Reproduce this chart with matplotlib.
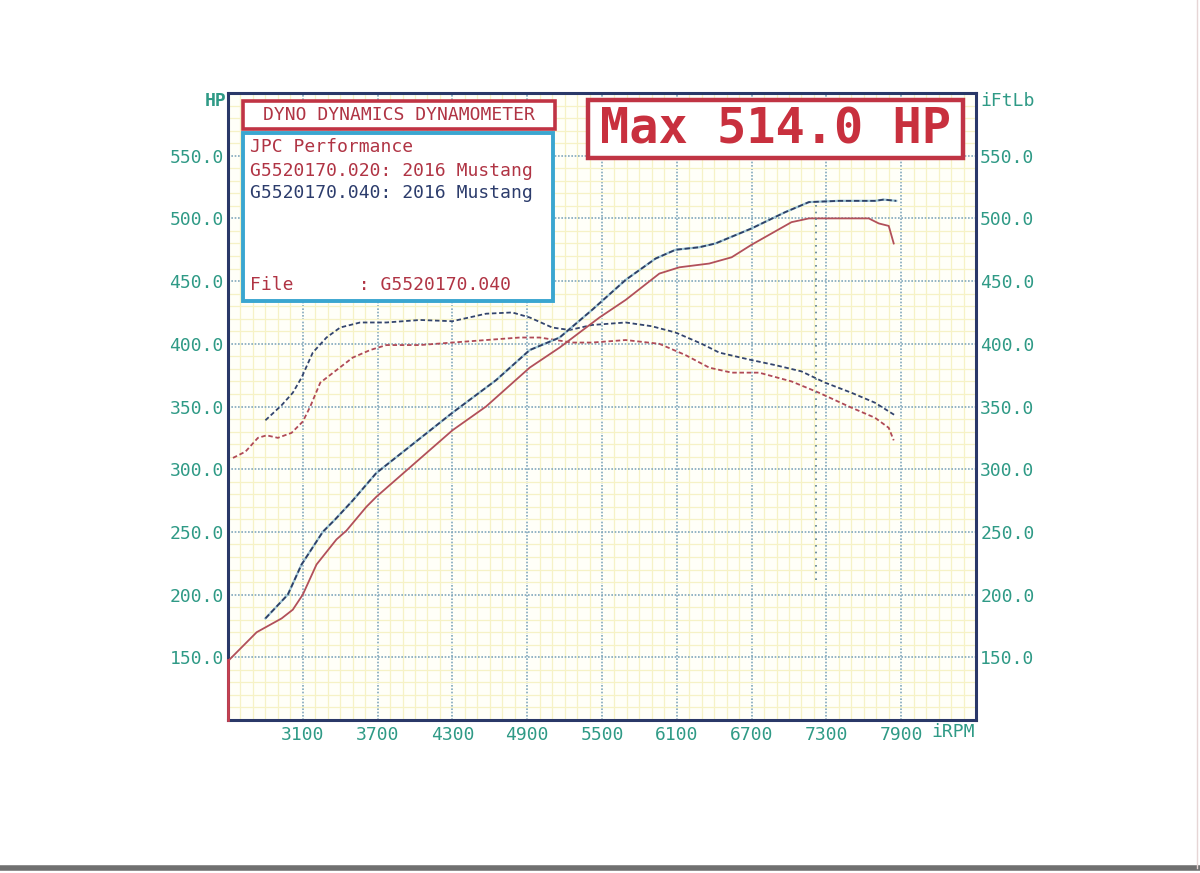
import matplotlib
matplotlib.use("Agg")
import matplotlib.pyplot as plt
from matplotlib.patches import Rectangle
from matplotlib.lines import Line2D
from matplotlib.ticker import MultipleLocator, FixedLocator

# run .040 (blue) and run .020 (red)
blue_hp_rpm = [2800, 2980, 3090, 3260, 3360, 3500, 3690, 4300, 4650, 4920, 5160, 5420,
               5690, 5930, 6090, 6280, 6410, 6700, 6970, 7160, 7400, 7690, 7760, 7860]
blue_hp = [181, 200, 224, 250, 260, 275, 297, 345, 371, 395, 405, 427,
           451, 468, 475, 477, 480, 492, 505, 513, 514, 514, 515, 514]

red_hp_rpm = [2500, 2730, 2930, 3020, 3100, 3210, 3370, 3450, 3610, 3690, 4300, 4570,
              4920, 5160, 5480, 5690, 5960, 6120, 6360, 6540, 6700, 6860, 7020, 7160,
              7400, 7640, 7720, 7800, 7840]
red_hp = [147, 170, 181, 188, 200, 224, 244, 251, 270, 278, 331, 350,
          381, 397, 421, 435, 456, 461, 464, 469, 479, 488, 497, 500,
          500, 500, 496, 494, 480]

blue_tq_rpm = [2800, 2930, 3020, 3090, 3180, 3290, 3400, 3560, 3770, 4040, 4300, 4570,
               4780, 4920, 5100, 5240, 5420, 5690, 5900, 6090, 6300, 6440, 6700, 6890,
               7100, 7290, 7500, 7690, 7850]
blue_tq = [339, 351, 361, 373, 393, 405, 413, 417, 417, 419, 418, 424,
           425, 421, 413, 411, 415, 417, 414, 409, 400, 393, 387, 383,
           378, 369, 361, 353, 343]

red_tq_rpm = [2540, 2640, 2740, 2810, 2900, 3010, 3100, 3160, 3240, 3370, 3500, 3640,
              3770, 4040, 4300, 4570, 4840, 5000, 5260, 5420, 5690, 5960, 6170, 6360,
              6540, 6760, 7020, 7240, 7480, 7690, 7800, 7840]
red_tq = [309, 314, 325, 327, 325, 329, 338, 350, 369, 379, 389, 395,
          399, 399, 401, 403, 405, 405, 401, 401, 403, 400, 391, 381,
          377, 377, 370, 361, 350, 341, 333, 323]

cursor_rpm = 7220
cursor_range = [212, 515]

x_ticks = [3100, 3700, 4300, 4900, 5500, 6100, 6700, 7300, 7900]
y_ticks = [150, 200, 250, 300, 350, 400, 450, 500, 550]

W, H = 1200, 873
TEAL = "#2f9a86"
NAVY = "#2a3868"
RED = "#c03444"
CYAN = "#3aa6d0"
MONO = "DejaVu Sans Mono"


def fx(px):
    return px / W


def fy(py):
    return 1 - py / H


fig = plt.figure(figsize=(W / 100, H / 100), dpi=100)
fig.patch.set_facecolor("white")
ax = fig.add_axes([fx(228), fy(720), fx(976) - fx(228), fy(93) - fy(720)])
ax.set_facecolor("#fffff8")
ax.set_xlim(2500, 8500)
ax.set_ylim(100, 600)

# grid: pale yellow minor, dotted blue major
ax.xaxis.set_major_locator(FixedLocator(x_ticks))
ax.yaxis.set_major_locator(FixedLocator(y_ticks))
ax.xaxis.set_minor_locator(MultipleLocator(100))
ax.yaxis.set_minor_locator(MultipleLocator(10))
ax.grid(which="minor", color="#f6f2c6", lw=0.9, ls="-", zorder=0)
ax.grid(which="major", color="#82a8bc", lw=1.2, ls=(0, (1, 1)), zorder=1)
ax.set_axisbelow(True)

ax.set_xticklabels([str(t) for t in x_ticks])
ax.set_yticklabels(["%.1f" % t for t in y_ticks])
ax.tick_params(which="both", length=0)
ax.tick_params(axis="y", labelright=True, pad=3)
ax.tick_params(axis="x", pad=4)
for lab in ax.get_xticklabels() + ax.get_yticklabels():
    lab.set_fontfamily(MONO)
    lab.set_fontsize(13)
    lab.set_color(TEAL)

for sp in ax.spines.values():
    sp.set_color(NAVY)
    sp.set_linewidth(2.2)

# torque traces (dashed)
ax.plot(blue_tq_rpm, blue_tq, color="#33456e", lw=1.3, ls=(0, (2.5, 1.5)), zorder=3)
ax.plot(red_tq_rpm, red_tq, color="#b04a56", lw=1.3, ls=(0, (2.5, 1.5)), zorder=3)

# power traces
ax.plot(blue_hp_rpm, blue_hp, color="#9cc4d4", lw=1.6, zorder=3)
ax.plot(blue_hp_rpm, blue_hp, color="#2e3f66", lw=1.3, ls=(0, (3, 1.5)), zorder=4)
ax.plot(red_hp_rpm, red_hp, color="#b2505a", lw=1.3, zorder=4)

# cursor
ax.plot([cursor_rpm, cursor_rpm], cursor_range, color="#5a8090", lw=1.2,
        ls=(0, (1, 3)), zorder=4)

# red segment on left axis
ax.plot([2500, 2500], [100, 148], color="#c84050", lw=2.0, clip_on=False, zorder=5)

# axis unit labels
fig.text(fx(226), fy(101), "HP", ha="right", va="center", family=MONO,
         fontsize=13, color=TEAL, fontweight="bold")
fig.text(fx(980), fy(101), "iFtLb", ha="left", va="center", family=MONO,
         fontsize=13, color=TEAL)
fig.text(fx(953), fy(732), "iRPM", ha="center", va="center", family=MONO,
         fontsize=13, color=TEAL)

# title box
fig.patches.append(Rectangle((fx(243), fy(129)), fx(555) - fx(243), fy(101) - fy(129),
                             transform=fig.transFigure, facecolor="white",
                             edgecolor=RED, lw=2.6, zorder=5))
fig.text(fx(399), fy(115), "DYNO DYNAMICS DYNAMOMETER", ha="center", va="center",
         family=MONO, fontsize=13, color="#b03444", zorder=6)

# info box
fig.patches.append(Rectangle((fx(243), fy(301)), fx(553) - fx(243), fy(133) - fy(301),
                             transform=fig.transFigure, facecolor="white",
                             edgecolor=CYAN, lw=2.8, zorder=5))
info = [("JPC Performance", 147, "#b03444"),
        ("G5520170.020: 2016 Mustang", 171, "#b03444"),
        ("G5520170.040: 2016 Mustang", 193, "#2c3c6c"),
        ("File      : G5520170.040", 285, "#b03444")]
for txt, yy, col in info:
    fig.text(fx(250), fy(yy), txt, ha="left", va="center", family=MONO,
             fontsize=13, color=col, zorder=6)

# max box
fig.patches.append(Rectangle((fx(588), fy(158)), fx(963) - fx(588), fy(100) - fy(158),
                             transform=fig.transFigure, facecolor="white",
                             edgecolor=RED, lw=3.2, zorder=5))
fig.text(fx(775), fy(130), "Max 514.0 HP", ha="center", va="center", family=MONO,
         fontsize=35, fontweight="bold", color="#c8303e", zorder=6)

# scanned page edges
fig.lines.append(Line2D([0, 1], [fy(868), fy(868)], transform=fig.transFigure,
                        color="#707070", lw=4))
fig.lines.append(Line2D([fx(1197), fx(1197)], [fy(868), 1], transform=fig.transFigure,
                        color="#e6d6d6", lw=1))

fig.savefig("out.png", dpi=100)
